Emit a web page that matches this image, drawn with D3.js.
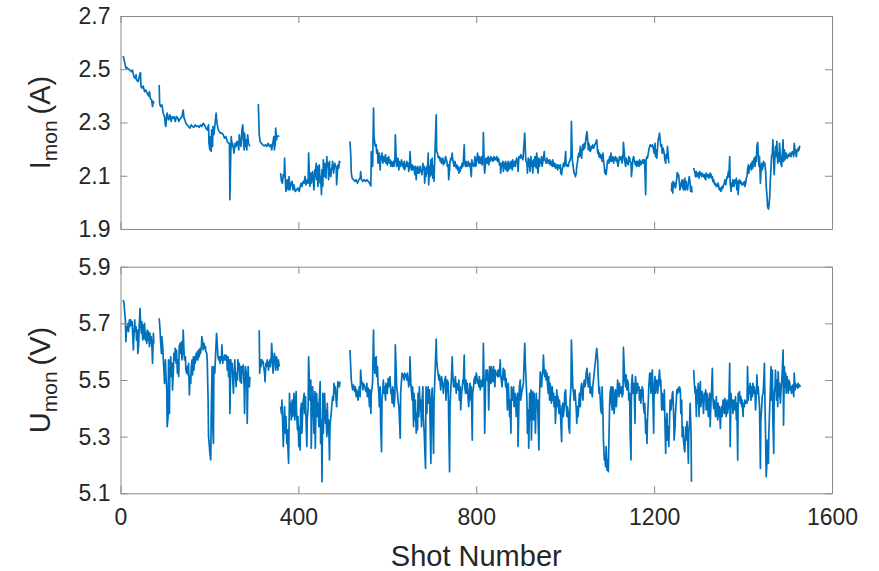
<!DOCTYPE html>
<html>
<head>
<meta charset="utf-8">
<script src="https://cdn.jsdelivr.net/npm/d3@7"></script>
<style>
  html, body { margin: 0; padding: 0; background: #fff; }
  svg { display: block; }
  text { font-family: "Liberation Sans", Arial, Helvetica, sans-serif; fill: #262626; }
</style>
</head>
<body>
<svg id="chart" width="879" height="571"></svg>
<script>
// ---------- DATA ----------
const xTicks = [0, 400, 800, 1200, 1600];
const currentTicks = [1.9, 2.1, 2.3, 2.5, 2.7];
const voltageTicks = [5.1, 5.3, 5.5, 5.7, 5.9];
const xLabel = "Shot Number";

// [shot, I_mon (A)]; null = break in the record
const currentData = [
[6,2.55],[10,2.522],[12,2.504],[14,2.507],[18,2.50],[21,2.497],[25,2.491],[27,2.497],[30,2.472],[33,2.466],[35,2.479],[36,2.46],[40,2.454],[42,2.472],[44,2.485],[45,2.487],[46,2.435],[48,2.429],[51,2.437],[54,2.416],[57,2.422],[60,2.41],[63,2.40],[65,2.416],[67,2.391],[70,2.385],[72,2.36],[74,2.379],[75,2.372],[80,null],
[87,2.441],[88,2.372],[90,2.36],[93,2.366],[95,2.347],[96,2.335],[99,2.322],[101,2.291],[102,2.285],[104,2.329],[105,2.335],[108,2.31],[110,2.316],[111,2.329],[114,2.304],[116,2.322],[119,2.316],[121,2.322],[123,2.304],[126,2.322],[129,2.316],[131,2.304],[133,2.31],[135,2.316],[138,2.32],[141,2.347],[143,2.316],[145,2.31],[147,2.297],[150,2.291],[153,2.285],[156,2.279],[159,2.291],[162,2.285],[165,2.282],[168,2.291],[171,2.285],[174,2.287],[177,2.282],[180,2.291],[183,2.285],[186,2.297],[189,2.291],[192,2.279],[195,2.272],[198,2.291],[199,2.222],[201,2.197],[202,2.247],[204,2.191],[205,2.272],[207,2.21],[208,2.285],[210,2.254],[215,2.335],[217,2.297],[220,2.272],[222,2.266],[225,2.26],[228,2.26],[231,2.254],[234,2.241],[237,2.247],[240,2.229],[243,2.222],[245,2.222],[246,2.01],[248,2.185],[249,2.247],[251,2.21],[252,2.222],[254,2.204],[255,2.185],[258,2.222],[260,2.21],[262,2.229],[264,2.222],[266,2.197],[267,2.254],[269,2.229],[271,2.21],[273,2.272],[275,2.291],[276,2.247],[278,2.197],[279,2.26],[281,2.21],[282,2.235],[284,2.197],[286,2.254],[288,2.222],[291,2.21],[300,null],
[310,2.369],[312,2.254],[314,2.229],[317,2.222],[320,2.216],[323,2.212],[326,2.216],[329,2.21],[332,2.222],[335,2.21],[338,2.216],[340,2.197],[342,2.222],[343,2.229],[345,2.247],[346,2.197],[348,2.222],[349,2.279],[351,2.235],[352,2.247],[354,2.25],[357,2.247],[358.5,null],
[360,2.11],[362,2.079],[364,2.072],[366,2.104],[368,2.097],[369,2.166],[371,2.072],[372,2.041],[375,2.085],[377,2.047],[379,2.097],[381,2.047],[384,2.072],[386,2.079],[388,2.047],[390,2.066],[393,2.041],[396,2.047],[399,2.054],[402,2.041],[404,2.06],[406,2.072],[408,2.06],[411,2.079],[413,2.072],[415,2.097],[417,2.066],[420,2.085],[422,2.072],[423,2.185],[425,2.097],[426,2.06],[428,2.11],[429,2.072],[431,2.097],[432,2.116],[434,2.072],[435,2.047],[437,2.122],[438,2.097],[440,2.147],[441,2.085],[443,2.135],[444,2.06],[446,2.11],[447,2.141],[449,2.072],[450,2.097],[452,2.029],[453,2.122],[455,2.06],[456,2.16],[458,2.097],[459,2.147],[461,2.122],[462,2.091],[464,2.172],[465,2.135],[467,2.147],[468,2.085],[470,2.154],[471,2.11],[473,2.097],[474,2.122],[476,2.135],[477,2.154],[479,2.11],[480,2.122],[482,2.147],[483,2.135],[485,2.135],[486,2.066],[488,2.122],[489,2.141],[491,2.129],[492,2.154],[494,2.147],[500,null],
[516,2.229],[518,2.172],[519,2.11],[521,2.091],[524,2.085],[527,2.079],[530,2.085],[533,2.072],[536,2.085],[539,2.091],[540,2.116],[542,2.085],[545,2.079],[548,2.085],[551,2.079],[554,2.085],[557,2.079],[560,2.072],[563,2.062],[564,2.191],[567,2.135],[569,2.354],[570,2.247],[572,2.222],[573,2.21],[575,2.216],[576,2.185],[578,2.197],[579,2.147],[581,2.166],[582,2.185],[584,2.122],[585,2.172],[587,2.16],[588,2.185],[590,2.147],[591,2.172],[593,2.154],[594,2.166],[596,2.179],[597,2.147],[599,2.166],[600,2.141],[602,2.16],[603,2.172],[605,2.147],[606,2.16],[608,2.135],[609,2.154],[611,2.147],[612,2.135],[614,2.154],[615,2.135],[617,2.16],[618,2.254],[620,2.166],[621,2.135],[623,2.147],[624,2.166],[626,2.122],[627,2.154],[629,2.147],[630,2.135],[632,2.16],[633,2.141],[635,2.147],[636,2.129],[638,2.154],[639,2.122],[641,2.135],[642,2.141],[644,2.154],[645,2.135],[647,2.147],[648,2.116],[650,2.135],[651,2.191],[653,2.135],[654,2.122],[656,2.141],[657,2.122],[659,2.135],[660,2.129],[662,2.104],[663,2.135],[665,2.085],[666,2.122],[668,2.135],[669,2.11],[671,2.129],[672,2.11],[674,2.135],[675,2.116],[677,2.122],[678,2.104],[680,2.147],[681,2.122],[683,2.135],[684,2.072],[686,2.129],[687,2.097],[689,2.135],[690,2.11],[692,2.185],[693,2.066],[695,2.135],[696,2.097],[698,2.16],[699,2.104],[701,2.166],[702,2.091],[704,2.135],[705,2.079],[710,2.329],[711,2.191],[713,2.185],[714,2.172],[716,2.166],[717,2.172],[719,2.154],[720,2.166],[722,2.147],[723,2.16],[725,2.166],[726,2.141],[728,2.154],[729,2.147],[731,2.172],[732,2.166],[734,2.154],[735,2.135],[737,2.141],[738,2.085],[740,2.122],[741,2.154],[743,2.166],[744,2.16],[746,2.185],[747,2.16],[749,2.147],[750,2.135],[752,2.154],[753,2.147],[755,2.129],[756,2.141],[758,2.122],[759,2.135],[761,2.11],[762,2.129],[764,2.116],[765,2.135],[767,2.129],[768,2.147],[770,2.135],[771,2.154],[773,2.216],[774,2.147],[776,2.135],[777,2.154],[779,2.141],[780,2.135],[782,2.154],[783,2.141],[785,2.135],[786,2.147],
[789,2.097],[790,2.16],[792,2.141],[795,2.135],[797,2.172],[799,2.135],[801,2.16],[803,2.185],[804,2.166],[806,2.147],[807,2.172],[809,2.154],[810,2.147],[812,2.172],[813,2.141],[815,2.154],[816,2.262],[818,2.135],[819,2.11],[821,2.154],[822,2.166],[824,2.147],[825,2.16],[827,2.172],[828,2.141],[830,2.166],[831,2.154],[833,2.172],[834,2.16],[836,2.166],[837,2.154],[839,2.16],[840,2.172],[842,2.16],[843,2.166],[845,2.16],[846,2.172],[848,2.154],[849,2.166],[851,2.16],[852,2.141],[854,2.147],[855,2.11],[857,2.147],[858,2.135],[860,2.154],[861,2.116],[863,2.147],[864,2.129],[866,2.154],[867,2.122],[869,2.147],[870,2.116],[872,2.154],[873,2.122],[875,2.147],[876,2.129],[878,2.154],[879,2.135],[881,2.122],[882,2.16],[884,2.135],[885,2.147],[887,2.154],[888,2.135],[890,2.16],[891,2.166],[893,2.154],[894,2.116],[896,2.172],[897,2.172],[899,2.166],[900,2.179],[905,2.16],[909,2.26],[911,2.172],[912,2.154],[914,2.147],[915,2.11],[917,2.166],[918,2.135],[920,2.16],[921,2.116],[923,2.172],[924,2.135],[926,2.154],[927,2.11],[929,2.16],[930,2.135],[932,2.172],[933,2.141],[935,2.129],[936,2.185],[938,2.135],[939,2.11],[941,2.166],[942,2.135],[944,2.16],[945,2.147],[947,2.172],[948,2.135],[950,2.154],[951,2.166],[953,2.191],[954,2.16],[956,2.154],[957,2.147],[959,2.166],[960,2.16],[962,2.147],[963,2.154],[965,2.16],[966,2.141],[968,2.154],[969,2.147],[971,2.135],[972,2.16],[974,2.141],[975,2.135],[977,2.147],[978,2.129],[980,2.141],[981,2.135],[983,2.122],[984,2.141],[986,2.135],[987,2.129],[989,2.141],[990,2.11],[992,2.104],[993,2.122],[995,2.135],[996,2.147],[998,2.135],[999,2.147],[1001,2.191],[1002,2.141],[1004,2.135],[1005,2.141],[1007,2.135],[1008,2.147],[1010,2.154],[1011,2.16],[1013,2.172],[1014,2.304],[1016,2.16],[1017,2.147],[1019,2.122],[1020,2.11],[1022,2.104],[1023,2.097],[1025,2.11],[1026,2.135],[1028,2.154],[1029,2.172],[1031,2.185],[1032,2.172],[1034,2.21],[1035,2.185],[1037,2.166],[1038,2.197],[1040,2.216],[1041,2.197],[1043,2.222],[1044,2.204],[1046,2.229],[1047,2.247],[1049,2.266],[1050,2.247],[1052,2.197],[1053,2.222],[1055,2.21],[1056,2.191],[1058,2.197],[1059,2.21],[1061,2.204],[1062,2.216],[1064,2.204],[1071,2.235],[1073,2.185],[1074,2.197],[1076,2.172],[1077,2.185],[1079,2.166],[1080,2.179],[1082,2.172],[1083,2.154],[1085,2.185],[1086,2.16],[1088,2.135],[1089,2.11],[1091,2.122],[1092,2.104],[1094,2.135],[1095,2.154],[1097,2.16],[1098,2.147],[1100,2.172],[1101,2.154],[1103,2.185],[1104,2.154],[1106,2.16],[1107,2.172],[1109,2.147],[1110,2.166],[1112,2.16],[1113,2.172],[1115,2.154],[1116,2.166],[1118,2.147],[1119,2.135],[1121,2.16],[1122,2.172],[1124,2.166],[1125,2.16],[1127,2.172],[1128,2.147],[1130,2.172],[1131,2.225],[1133,2.185],[1134,2.154],[1136,2.135],[1137,2.166],[1139,2.154],[1140,2.147],[1142,2.141],[1143,2.172],[1145,2.166],[1146,2.154],[1148,2.147],[1149,2.097],[1151,2.135],[1152,2.16],[1154,2.172],[1155,2.16],[1157,2.147],[1158,2.141],[1160,2.154],[1161,2.135],[1163,2.154],[1164,2.147],[1166,2.135],[1167,2.16],[1169,2.154],[1170,2.141],[1172,2.147],[1173,2.154],[1175,2.16],[1176,2.147],[1178,2.16],[1179,2.135],[1181,2.029],[1182,2.16],[1184,2.172],[1185,2.166],[1187,2.185],[1188,2.197],[1190,2.21],[1191,2.216],[1194,2.21],[1196,2.216],[1198,2.204],[1200,2.185],[1202,2.222],[1203,2.172],[1205,2.197],[1206,2.166],[1208,2.21],[1209,2.235],[1211,2.247],[1212,2.26],[1214,2.229],[1215,2.21],[1217,2.216],[1218,2.185],[1220,2.204],[1221,2.197],[1223,2.179],[1224,2.16],[1226,2.147],[1227,2.179],[1229,2.166],[1230,2.21],[1232,2.172],[1233,2.147],[1235,null],
[1239,2.041],[1240,2.072],[1242,2.035],[1243,2.079],[1245,2.06],[1246,2.072],[1248,2.054],[1249,2.066],[1251,2.091],[1252,2.112],[1254,2.097],[1255,2.104],[1257,2.072],[1258,2.047],[1260,2.06],[1261,2.072],[1263,2.085],[1264,2.06],[1266,2.047],[1267,2.079],[1269,2.091],[1270,2.047],[1272,2.079],[1273,2.06],[1275,2.047],[1276,2.06],[1278,2.085],[1279,2.097],[1281,2.072],[1282,2.041],[1284,2.06],[1285,2.037],[1287,null],
[1289,2.129],[1290,2.122],[1292,2.11],[1293,2.097],[1295,2.116],[1296,2.097],[1298,2.11],[1299,2.104],[1301,2.091],[1302,2.116],[1304,2.11],[1305,2.104],[1307,2.097],[1308,2.11],[1310,2.104],[1311,2.097],[1313,2.104],[1314,2.091],[1316,2.085],[1317,2.11],[1319,2.104],[1320,2.097],[1322,2.104],[1323,2.091],[1325,2.097],[1326,2.11],[1328,2.104],[1329,2.091],[1331,2.097],[1332,2.079],[1334,2.085],[1335,2.072],[1337,2.066],[1338,2.072],[1340,2.06],[1341,2.066],[1343,2.06],[1344,2.072],[1346,2.054],[1347,2.047],[1349,2.054],[1350,2.041],[1352,2.047],[1353,2.06],[1355,2.054],[1356,2.066],[1358,2.072],[1359,2.085],[1361,2.066],[1362,2.079],[1364,2.097],[1365,2.091],[1367,2.116],[1368,2.097],[1370,2.172],[1371,2.072],[1373,2.041],[1374,2.072],[1376,2.06],[1377,2.085],[1379,2.079],[1380,2.06],[1382,2.085],[1383,2.072],[1385,2.091],[1386,2.047],[1388,2.079],[1389,2.029],[1391,2.079],[1392,2.085],[1394,2.072],[1395,2.079],[1397,2.066],[1398,2.072],[1400,2.066],[1401,2.072],[1403,2.079],[1404,2.06],[1406,2.072],[1407,2.091],[1409,2.097],[1410,2.122],[1412,2.141],[1413,2.11],[1415,2.135],[1416,2.129],[1418,2.147],[1419,2.122],[1421,2.154],[1422,2.129],[1424,2.16],[1425,2.166],[1427,2.135],[1428,2.172],[1430,2.154],[1431,2.21],[1433,2.225],[1434,2.185],[1436,2.135],[1437,2.172],[1439,2.072],[1440,2.11],[1442,2.147],[1443,2.122],[1445,2.135],[1446,2.154],[1448,2.141],[1449,2.147],[1451,2.11],[1452,2.06],[1454,2.022],[1455,1.985],[1457,1.975],[1458,1.985],[1460,2.022],[1461,2.072],[1463,2.135],[1464,2.172],[1466,2.185],[1467,2.235],[1469,2.147],[1470,2.104],[1472,2.185],[1473,2.21],[1475,2.172],[1476,2.229],[1478,2.147],[1479,2.185],[1481,2.154],[1482,2.222],[1484,2.172],[1485,2.147],[1487,2.135],[1488,2.172],[1490,2.235],[1491,2.154],[1493,2.197],[1494,2.16],[1496,2.172],[1497,2.185],[1499,2.166],[1500,2.172],[1502,2.179],[1503,2.172],[1505,2.185],[1506,2.179],[1508,2.172],[1509,2.185],[1511,2.191],[1512,2.185],[1514,2.172],[1515,2.222],[1517,2.197],[1518,2.185],[1520,2.172],[1521,2.197],[1523,2.191],[1524,2.204],[1526,2.197],[1527,2.21],[1529,2.21]
];

// [shot, U_mon (V)]; null = break in the record
const voltageData = [
[6,5.782],[8,5.77],[9,5.747],[11,5.712],[12,5.635],[14,5.688],[15,5.676],[17,5.70],[18,5.671],[20,5.712],[21,5.688],[23,5.712],[24,5.694],[26,5.706],[27,5.676],[29,5.606],[30,5.653],[32,5.712],[33,5.671],[35,5.688],[36,5.641],[38,5.676],[39,5.594],[41,5.629],[42,5.688],[44,5.753],[45,5.70],[47,5.665],[48,5.706],[50,5.641],[51,5.694],[53,5.647],[54,5.70],[56,5.641],[57,5.665],[59,5.629],[60,5.676],[62,5.641],[63,5.671],[65,5.618],[66,5.665],[68,5.629],[69,5.653],[71,5.606],[72,5.559],[74,5.665],[75,5.629],[80,null],
[87,5.718],[89,5.676],[90,5.641],[92,5.594],[93,5.653],[95,5.618],[96,5.582],[98,5.524],[99,5.488],[101,5.571],[102,5.524],[104,5.465],[105,5.335],[107,5.371],[108,5.571],[110,5.382],[111,5.547],[113,5.582],[114,5.512],[116,5.559],[117,5.465],[119,5.535],[120,5.594],[122,5.571],[123,5.612],[125,5.559],[126,5.606],[128,5.524],[129,5.571],[131,5.512],[132,5.618],[134,5.629],[135,5.594],[137,5.635],[138,5.571],[140,5.606],[141,5.676],[143,5.594],[144,5.571],[146,5.582],[147,5.535],[149,5.524],[150,5.547],[152,5.518],[153,5.559],[155,5.447],[156,5.512],[158,5.488],[159,5.547],[161,5.571],[162,5.518],[164,5.582],[165,5.535],[167,5.582],[168,5.559],[170,5.594],[171,5.571],[173,5.6],[174,5.571],[176,5.606],[177,5.582],[179,5.612],[180,5.594],[182,5.618],[183,5.653],[185,5.629],[186,5.606],[188,5.629],[189,5.612],[191,5.618],[192,5.6],[194,5.594],[195,5.571],[197,5.429],[198,5.30],[200,5.265],[201,5.241],[203,5.218],[204,5.382],[206,5.547],[207,5.347],[209,5.276],[210,5.547],[212,5.524],[216,5.665],[218,5.618],[219,5.582],[221,5.571],[222,5.582],[224,5.559],[225,5.582],[227,5.571],[228,5.624],[230,5.559],[231,5.582],[233,5.571],[234,5.588],[236,5.571],[237,5.588],[239,5.582],[240,5.535],[242,5.582],[243,5.512],[245,5.571],[246,5.382],[248,5.571],[249,5.535],[251,5.559],[252,5.512],[254,5.453],[255,5.512],[257,5.571],[258,5.535],[260,5.476],[261,5.524],[263,5.50],[264,5.571],[266,5.535],[267,5.559],[269,5.494],[270,5.547],[272,5.488],[273,5.547],[275,5.524],[276,5.553],[278,5.476],[279,5.382],[281,5.547],[282,5.535],[284,5.512],[285,5.347],[287,5.547],[288,5.50],[290,5.476],[291,5.512],[300,null],
[312,5.676],[313,5.524],[315,5.571],[316,5.547],[318,5.571],[319,5.559],[321,5.565],[322,5.547],[324,5.524],[325,5.494],[327,5.559],[328,5.547],[330,5.571],[331,5.559],[333,5.535],[334,5.559],[336,5.571],[337,5.547],[339,5.582],[340,5.629],[342,5.559],[343,5.524],[345,5.571],[346,5.594],[348,5.571],[349,5.535],[351,5.582],[352,5.559],[354,5.535],[355,5.571],[357,5.547],[358.5,null],
[360,5.406],[362,5.382],[363,5.429],[365,5.335],[366,5.265],[368,5.359],[369,5.406],[371,5.312],[372,5.371],[374,5.276],[375,5.324],[377,5.241],[378,5.206],[380,5.453],[381,5.382],[383,5.418],[384,5.359],[386,5.429],[387,5.371],[389,5.382],[390,5.453],[392,5.359],[393,5.406],[395,5.459],[396,5.382],[398,5.324],[399,5.371],[401,5.265],[402,5.335],[404,5.253],[405,5.394],[407,5.418],[408,5.312],[410,5.406],[411,5.429],[413,5.453],[414,5.382],[416,5.441],[417,5.371],[419,5.265],[420,5.359],[422,5.406],[423,5.582],[425,5.476],[426,5.429],[428,5.50],[429,5.259],[431,5.429],[432,5.476],[434,5.394],[435,5.312],[437,5.459],[438,5.259],[440,5.429],[441,5.453],[443,5.371],[444,5.418],[446,5.335],[447,5.429],[449,5.494],[450,5.276],[452,5.359],[453,5.141],[455,5.453],[456,5.312],[458,5.429],[459,5.453],[461,5.347],[462,5.394],[464,5.30],[465,5.418],[467,5.312],[468,5.359],[470,5.218],[471,5.335],[477,5.441],[479,5.429],[480,5.488],[482,5.453],[483,5.476],[485,5.429],[486,5.406],[488,5.471],[489,5.494],[491,5.482],[492,5.476],[494,5.494],[505,null],
[516,5.606],[518,5.535],[519,5.50],[521,5.476],[522,5.465],[524,5.482],[525,5.471],[527,5.459],[528,5.476],[530,5.441],[531,5.465],[533,5.453],[534,5.429],[536,5.459],[537,5.476],[539,5.441],[540,5.535],[542,5.488],[543,5.494],[545,5.465],[546,5.488],[548,5.482],[549,5.476],[551,5.465],[552,5.459],[554,5.488],[555,5.441],[557,5.471],[558,5.453],[560,5.406],[561,5.465],[563,5.382],[564,5.453],[566,5.476],[567,5.50],[569,5.676],[570,5.571],[572,5.524],[573,5.576],[575,5.582],[576,5.512],[578,5.547],[579,5.488],[581,5.453],[582,5.406],[584,5.476],[585,5.347],[587,5.247],[588,5.429],[590,5.465],[591,5.50],[593,5.453],[594,5.476],[596,5.429],[597,5.488],[599,5.465],[600,5.453],[602,5.506],[603,5.476],[605,5.488],[606,5.512],[608,5.453],[609,5.465],[611,5.418],[612,5.476],[614,5.459],[615,5.406],[617,5.441],[618,5.624],[620,5.535],[621,5.476],[623,5.453],[624,5.429],[626,5.406],[627,5.371],[629,5.294],[630,5.453],[632,5.50],[633,5.524],[635,5.518],[636,5.512],[638,5.50],[639,5.524],[641,5.512],[642,5.518],[644,5.50],[645,5.524],[647,5.50],[648,5.476],[650,5.488],[651,5.582],[653,5.488],[654,5.465],[656,5.429],[657,5.476],[659,5.335],[660,5.453],[662,5.359],[663,5.429],[665,5.312],[666,5.382],[668,5.324],[669,5.453],[671,5.371],[672,5.476],[674,5.394],[675,5.429],[677,5.335],[678,5.418],[680,5.476],[681,5.371],[683,5.312],[684,5.265],[686,5.188],[687,5.476],[689,5.382],[690,5.453],[692,5.476],[693,5.418],[695,5.465],[696,5.359],[698,5.206],[699,5.429],[701,5.471],[702,5.371],[704,5.241],[705,5.418],[710,5.644],[711,5.571],[713,5.535],[714,5.524],[716,5.50],[717,5.518],[719,5.488],[720,5.465],[722,5.512],[723,5.50],[725,5.476],[726,5.453],[728,5.488],[729,5.50],[731,5.512],[732,5.429],[734,5.476],[735,5.50],[737,5.488],[738,5.359],[740,5.176],[741,5.406],[743,5.476],[744,5.50],[746,5.582],[747,5.524],[749,5.476],[750,5.50],[752,5.476],[753,5.512],[755,5.453],[756,5.488],[758,5.476],[759,5.465],[761,5.50],[762,5.429],[764,5.476],[765,5.394],[767,5.453],[768,5.465],[770,5.50],[771,5.488],[773,5.588],[774,5.476],[776,5.453],[777,5.50],[779,5.453],[780,5.488],[782,5.429],[783,5.406],[785,5.465],
[786,5.488],[788,5.429],[789,5.476],[791,5.288],[792,5.453],[794,5.476],[795,5.50],[797,5.512],[798,5.488],[800,5.524],[801,5.518],[803,5.488],[804,5.50],[806,5.476],[807,5.512],[809,5.465],[810,5.488],[812,5.50],[813,5.476],[815,5.488],[816,5.629],[818,5.453],[819,5.312],[821,5.488],[822,5.535],[824,5.50],[825,5.535],[827,5.488],[828,5.394],[830,5.547],[831,5.512],[833,5.488],[834,5.547],[836,5.518],[837,5.494],[839,5.547],[840,5.512],[842,5.476],[843,5.535],[845,5.518],[846,5.524],[848,5.512],[849,5.535],[851,5.512],[852,5.524],[854,5.571],[855,5.518],[857,5.488],[858,5.476],[860,5.524],[861,5.541],[863,5.50],[864,5.535],[866,5.476],[867,5.506],[869,5.453],[870,5.394],[872,5.488],[873,5.453],[875,5.371],[876,5.429],[878,5.312],[879,5.476],[881,5.453],[882,5.429],[884,5.476],[885,5.406],[887,5.453],[888,5.441],[890,5.371],[891,5.429],[893,5.453],[894,5.265],[896,5.418],[897,5.476],[899,5.50],[900,5.429],[902,5.453],[906,5.488],[909,5.629],[911,5.535],[912,5.50],[914,5.429],[915,5.312],[917,5.394],[918,5.259],[920,5.453],[921,5.359],[923,5.465],[924,5.288],[926,5.429],[927,5.459],[929,5.359],[930,5.453],[932,5.394],[933,5.312],[935,5.453],[936,5.406],[938,5.429],[939,5.359],[941,5.253],[942,5.429],[944,5.529],[945,5.50],[947,5.476],[948,5.512],[950,5.535],[951,5.588],[953,5.524],[954,5.512],[956,5.535],[957,5.50],[959,5.524],[960,5.488],[962,5.453],[963,5.512],[965,5.429],[966,5.488],[968,5.465],[969,5.418],[971,5.476],[972,5.429],[974,5.453],[975,5.406],[977,5.441],[978,5.347],[980,5.418],[981,5.465],[983,5.406],[984,5.441],[986,5.382],[987,5.429],[989,5.394],[990,5.359],[992,5.282],[993,5.406],[995,5.418],[996,5.371],[998,5.406],[999,5.453],[1001,5.465],[1002,5.418],[1004,5.371],[1005,5.406],[1007,5.382],[1008,5.335],[1010,5.312],[1011,5.429],[1013,5.476],[1014,5.641],[1016,5.535],[1017,5.476],[1019,5.453],[1020,5.429],[1022,5.465],[1023,5.441],[1025,5.394],[1026,5.347],[1028,5.406],[1029,5.371],[1031,5.429],[1032,5.453],[1034,5.406],[1035,5.465],[1037,5.488],[1038,5.453],[1040,5.429],[1041,5.476],[1043,5.50],[1044,5.476],[1046,5.488],[1047,5.524],[1049,5.541],[1050,5.512],[1052,5.476],[1053,5.488],[1055,5.524],[1056,5.453],[1058,5.476],[1059,5.465],[1061,5.441],[1062,5.476],[1071,5.612],[1073,5.571],[1074,5.524],[1076,5.453],[1077,5.476],[1079,5.429],[1080,5.394],[1082,5.382],[1083,5.476],[1085,5.371],[1086,5.288],[1088,5.218],[1089,5.229],[1091,5.194],[1092,5.265],[1094,5.182],[1095,5.218],[1097,5.176],[1098,5.265],[1100,5.418],[1101,5.453],[1103,5.476],[1104,5.418],[1106,5.394],[1107,5.476],[1109,5.453],[1110,5.382],[1112,5.429],[1113,5.465],[1115,5.406],[1116,5.429],[1118,5.50],[1119,5.476],[1121,5.441],[1122,5.488],[1124,5.453],[1125,5.465],[1127,5.476],[1128,5.441],[1130,5.453],[1131,5.615],[1133,5.535],[1134,5.50],[1136,5.476],[1137,5.518],[1139,5.465],[1140,5.50],[1142,5.488],[1143,5.429],[1145,5.453],[1146,5.312],[1148,5.218],[1149,5.476],[1151,5.518],[1152,5.453],[1154,5.488],[1155,5.476],[1157,5.347],[1158,5.512],[1160,5.476],[1161,5.453],[1163,5.488],[1164,5.465],[1166,5.476],[1167,5.429],[1169,5.465],[1170,5.418],[1172,5.453],[1173,5.476],[1175,5.465],[1176,5.406],[1178,5.382],[1179,5.418],[1181,5.312],[1182,5.359],[1184,5.276],[1185,5.359],[1187,5.429],[1188,5.476],[1190,5.524],
[1191,5.524],[1193,5.453],[1194,5.512],[1196,5.535],[1197,5.453],[1199,5.312],[1200,5.476],[1202,5.512],[1203,5.453],[1205,5.488],[1206,5.50],[1208,5.453],[1209,5.476],[1211,5.512],[1212,5.535],[1214,5.476],[1215,5.50],[1217,5.394],[1218,5.453],[1220,5.429],[1221,5.394],[1223,5.465],[1224,5.371],[1226,5.241],[1227,5.335],[1229,5.382],[1230,5.288],[1232,5.335],[1233,5.265],[1235,5.371],[1236,5.429],[1238,5.394],[1239,5.418],[1241,5.453],[1242,5.459],[1244,5.371],[1245,5.288],[1247,5.335],[1248,5.382],[1250,5.429],[1251,5.465],[1253,5.453],[1254,5.471],[1256,5.459],[1257,5.476],[1259,5.465],[1260,5.382],[1262,5.429],[1263,5.30],[1265,5.335],[1266,5.288],[1268,5.253],[1269,5.247],[1271,5.335],[1272,5.288],[1274,5.353],[1275,5.312],[1277,5.206],[1278,5.312],[1280,5.359],[1281,5.418],[1283,5.312],[1284,5.141],[1286,null],
[1289,5.535],[1290,5.50],[1292,5.453],[1293,5.476],[1295,5.371],[1296,5.465],[1298,5.418],[1299,5.488],[1301,5.371],[1302,5.453],[1304,5.494],[1305,5.406],[1307,5.441],[1308,5.459],[1310,5.418],[1311,5.382],[1313,5.453],[1314,5.429],[1316,5.465],[1317,5.394],[1319,5.453],[1320,5.418],[1322,5.371],[1323,5.429],[1325,5.453],[1326,5.335],[1328,5.429],[1329,5.453],[1331,5.541],[1332,5.441],[1334,5.40],[1335,5.429],[1337,5.394],[1338,5.371],[1340,5.441],[1341,5.382],[1343,5.359],[1344,5.418],[1346,5.371],[1347,5.406],[1349,5.329],[1350,5.382],[1352,5.406],[1353,5.371],[1355,5.429],[1356,5.406],[1358,5.382],[1359,5.435],[1361,5.406],[1362,5.371],[1364,5.429],[1365,5.382],[1367,5.406],[1368,5.418],[1370,5.559],[1371,5.265],[1373,5.453],[1374,5.418],[1376,5.429],[1377,5.382],[1379,5.406],[1380,5.429],[1382,5.394],[1383,5.441],[1385,5.359],[1386,5.418],[1388,5.218],[1389,5.453],[1391,5.429],[1392,5.459],[1394,5.418],[1395,5.441],[1397,5.406],[1398,5.429],[1400,5.371],[1401,5.418],[1403,5.406],[1404,5.429],[1406,5.418],[1407,5.424],[1409,5.418],[1410,5.547],[1412,5.429],[1413,5.476],[1415,5.453],[1416,5.488],[1418,5.429],[1419,5.476],[1421,5.441],[1422,5.488],[1424,5.453],[1425,5.476],[1427,5.453],[1428,5.394],[1430,5.453],[1431,5.518],[1433,5.453],[1434,5.476],[1436,5.429],[1437,5.406],[1439,5.188],[1440,5.359],[1442,5.406],[1443,5.441],[1445,5.453],[1446,5.476],[1448,5.559],[1449,5.453],[1451,5.265],[1452,5.159],[1454,5.218],[1455,5.288],[1457,5.206],[1458,5.312],[1460,5.406],[1461,5.453],[1463,5.547],[1464,5.429],[1466,5.535],[1467,5.359],[1469,5.241],[1470,5.453],[1472,5.476],[1473,5.535],[1475,5.429],[1476,5.50],[1478,5.406],[1479,5.529],[1481,5.441],[1482,5.488],[1484,5.418],[1485,5.453],[1487,5.50],[1488,5.524],[1490,5.606],[1491,5.341],[1493,5.547],[1494,5.476],[1496,5.524],[1497,5.453],[1499,5.512],[1500,5.476],[1502,5.453],[1503,5.50],[1505,5.488],[1506,5.465],[1508,5.476],[1509,5.453],[1511,5.482],[1512,5.471],[1514,5.441],[1515,5.524],[1517,5.465],[1518,5.488],[1520,5.476],[1521,5.482],[1523,5.471],[1524,5.488],[1526,5.476],[1527,5.482],[1529,5.476]
];

// ---------- LAYOUT ----------
const W = 879, H = 571;
const left = 120.5, right = 832;
const topPanel = { y0: 16, y1: 229 };
const botPanel = { y0: 266.7, y1: 493.3 };
const lineColor = "#0072BD";
const axisColor = "#8a8a8a";
const textColor = "#262626";
const tickFont = 23;
const labelFont = 29;
const tickLen = 7;

const svg = d3.select("#chart");
svg.append("rect").attr("width", W).attr("height", H).attr("fill", "#fff");

const x = d3.scaleLinear().domain([0, 1600]).range([left, right]);

function panel(data, yDomain, yTicks, p, showX, labelMain, labelUnit) {
  const y = d3.scaleLinear().domain(yDomain).range([p.y1, p.y0]);
  const g = svg.append("g");

  const line = d3.line()
    .defined(d => d[1] !== null)
    .x(d => x(d[0]))
    .y(d => y(d[1]));
  g.append("path")
    .datum(data)
    .attr("fill", "none")
    .attr("stroke", lineColor)
    .attr("stroke-width", 1.7)
    .attr("stroke-linejoin", "round")
    .attr("d", line);

  const fmt = d3.format(".1f");
  const ax = g.append("g").attr("transform", `translate(${left},0)`)
    .call(d3.axisLeft(y).tickValues(yTicks).tickFormat(fmt).tickSize(-tickLen).tickSizeOuter(0).tickPadding(10));
  const ar = g.append("g").attr("transform", `translate(${right},0)`)
    .call(d3.axisRight(y).tickValues(yTicks).tickFormat("").tickSize(-tickLen).tickSizeOuter(0));
  const ab = g.append("g").attr("transform", `translate(0,${p.y1})`)
    .call(d3.axisBottom(x).tickValues(xTicks).tickFormat(showX ? d3.format("d") : "").tickSize(-tickLen).tickSizeOuter(0).tickPadding(15));
  const at = g.append("g").attr("transform", `translate(0,${p.y0})`)
    .call(d3.axisTop(x).tickValues(xTicks).tickFormat("").tickSize(-tickLen).tickSizeOuter(0));

  [ax, ar, ab, at].forEach(a => {
    a.selectAll("path.domain").attr("stroke", axisColor).attr("stroke-width", 1);
    a.selectAll(".tick line").attr("stroke", axisColor).attr("stroke-width", 1);
    a.selectAll(".tick text")
      .attr("fill", textColor)
      .style("font-size", tickFont + "px")
      .style("font-family", '"Liberation Sans", Arial, sans-serif');
  });

  const cy = (p.y0 + p.y1) / 2;
  const t = svg.append("text")
    .attr("transform", `translate(50,${cy}) rotate(-90)`)
    .attr("text-anchor", "middle")
    .attr("fill", textColor)
    .style("font-size", labelFont + "px");
  t.append("tspan").text(labelMain);
  t.append("tspan").attr("dy", 7).style("font-size", "21px").text("mon");
  t.append("tspan").attr("dy", -7).text("\u2009(" + labelUnit + ")");
}

panel(currentData, [1.9, 2.7], currentTicks, topPanel, false, "I", "A");
panel(voltageData, [5.1, 5.9], voltageTicks, botPanel, true, "U", "V");

svg.append("text")
  .attr("x", (left + right) / 2)
  .attr("y", 566)
  .attr("text-anchor", "middle")
  .attr("fill", textColor)
  .style("font-size", labelFont + "px")
  .text(xLabel);
</script>
</body>
</html>
